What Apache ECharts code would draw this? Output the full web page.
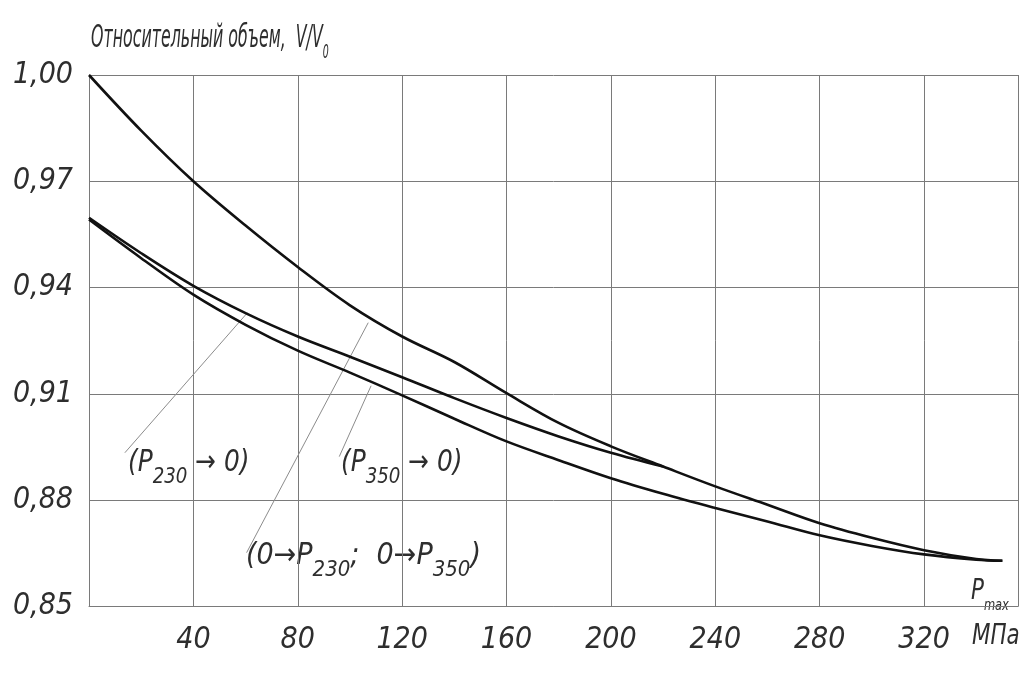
<!DOCTYPE html>
<html>
<head>
<meta charset="utf-8">
<script src="https://cdn.jsdelivr.net/npm/echarts@6/dist/echarts.min.js"></script>
<style>
  html, body { margin: 0; padding: 0; background: #fff; }
  #chart { width: 1021px; height: 686px; }
</style>
</head>
<body>
<div id="chart"></div>
<script>
// Maximum pressure, MPa
const pressure = [0, 20, 40, 60, 80, 100, 120, 140, 160, 180, 200, 220, 240, 260, 280, 300, 320, 340, 350];

// Loading curve (0 → P230; 0 → P350)
const loadingCurve = [1.000, 0.9843, 0.9700, 0.9575, 0.9458, 0.9350, 0.9262, 0.9190, 0.9102, 0.9018,
                      0.8952, 0.8895, 0.8839, 0.8787, 0.8735, 0.8694, 0.8659, 0.8634, 0.8629];

// Unloading from 230 MPa (P230 → 0)
const unload230Pressure = [0, 20, 40, 60, 80, 100, 120, 140, 160, 180, 200, 220];
const unload230Curve = [0.9597, 0.9497, 0.9405, 0.9328, 0.9262, 0.9205, 0.9147, 0.9088, 0.9032, 0.8980, 0.8934, 0.8895];

// Unloading from 350 MPa (P350 → 0)
const unload350Curve = [0.9592, 0.9483, 0.9380, 0.9295, 0.9222, 0.9160, 0.9096, 0.9030, 0.8966, 0.8913,
                        0.8862, 0.8818, 0.8778, 0.8740, 0.8701, 0.8671, 0.8647, 0.8632, 0.8629];

// Axis ticks
const xTicks = [40, 80, 120, 160, 200, 240, 280, 320];
const yTicks = [0.85, 0.88, 0.91, 0.94, 0.97, 1.00];

// Leader lines from the curve captions to the curves (data units)
const leader230 = [[13.75, 0.8934], [60.7, 0.9329]];
const leaderLoad = [[60.4, 0.8652], [107.0, 0.9301]];
const leader350 = [[95.9, 0.8923], [108.1, 0.9123]];

const FONT = "'Liberation Sans Narrow', 'DejaVu Sans Condensed', 'Liberation Sans', sans-serif";
const INK = '#2e2e2e';
const GRID = '#7a7a7a';

const zip = (xs, ys) => xs.map((x, i) => [x, ys[i]]);

const chart = echarts.init(document.getElementById('chart'), null, { renderer: 'canvas' });

const curve = (name, data) => ({
  name, type: 'line', data, smooth: 0.35, showSymbol: false, silent: true,
  lineStyle: { color: '#111', width: 2.6 }, z: 5
});
const leader = (data) => ({
  type: 'line', data, showSymbol: false, silent: true,
  lineStyle: { color: '#8c8c8c', width: 1 }, z: 4
});

// Caption with lowered subscripts: base text sits at the top of a taller line,
// subscripts sit at its bottom.
function caption(x, y, text, opts) {
  const o = Object.assign({ size: 30, subSize: 22, drop: 40, scaleX: 1 }, opts || {});
  const base = { fontFamily: FONT, fontStyle: 'italic', fontSize: o.size, fill: INK, lineHeight: o.size, verticalAlign: 'top' };
  const sub = { fontFamily: FONT, fontStyle: 'italic', fontSize: o.subSize, fill: INK, lineHeight: o.drop, verticalAlign: 'bottom' };
  return {
    type: 'text', x, y, scaleX: o.scaleX, silent: true,
    style: { text, fontFamily: FONT, fontStyle: 'italic', fontSize: o.size, fill: INK,
             verticalAlign: 'middle', align: 'left', rich: { m: base, s: sub } }
  };
}

chart.setOption({
  animation: false,
  backgroundColor: '#fff',
  grid: { left: 89, top: 75, right: 0, bottom: 79.5, containLabel: false },
  xAxis: {
    type: 'value', min: 0, max: 356, interval: 40,
    axisLine: { show: true, lineStyle: { color: GRID, width: 1 } },
    axisTick: { show: false },
    splitLine: { show: true, lineStyle: { color: GRID, width: 1 } },
    axisLabel: {
      margin: 19, color: INK, fontFamily: FONT, fontStyle: 'italic', fontSize: 30,
      formatter: (v) => (xTicks.indexOf(v) >= 0 ? String(v) : '')
    }
  },
  yAxis: {
    type: 'value', min: yTicks[0], max: yTicks[yTicks.length - 1], interval: 0.03,
    axisLine: { show: true, lineStyle: { color: GRID, width: 1 } },
    axisTick: { show: false },
    splitLine: { show: true, lineStyle: { color: GRID, width: 1 } },
    axisLabel: {
      margin: 16, color: INK, fontFamily: FONT, fontStyle: 'italic', fontSize: 30,
      formatter: (v) => v.toFixed(2).replace('.', ',')
    }
  },
  series: [
    curve('0 → P230; 0 → P350', zip(pressure, loadingCurve)),
    curve('P230 → 0', zip(unload230Pressure, unload230Curve)),
    curve('P350 → 0', zip(pressure, unload350Curve)),
    leader(leader230),
    leader(leaderLoad),
    leader(leader350)
  ],
  graphic: [
    caption(91, 43, '{m|Относительный объем,  V/V}{s|0}', { size: 32, subSize: 19, drop: 40, scaleX: 0.55 }),
    caption(128, 468, '{m|(P}{s|230}{m| → 0)}', { scaleX: 0.92 }),
    caption(341, 468, '{m|(P}{s|350}{m| → 0)}', { scaleX: 0.92 }),
    caption(246, 561, '{m|(0→P}{s|230}{m|;  0→P}{s|350}{m|)}'),
    caption(971, 596, '{m|P}{s|max}', { size: 28, subSize: 15, drop: 36, scaleX: 0.85 }),
    caption(972, 637, '{m|МПа}', { size: 28, scaleX: 0.85 })
  ]
});
</script>
</body>
</html>
